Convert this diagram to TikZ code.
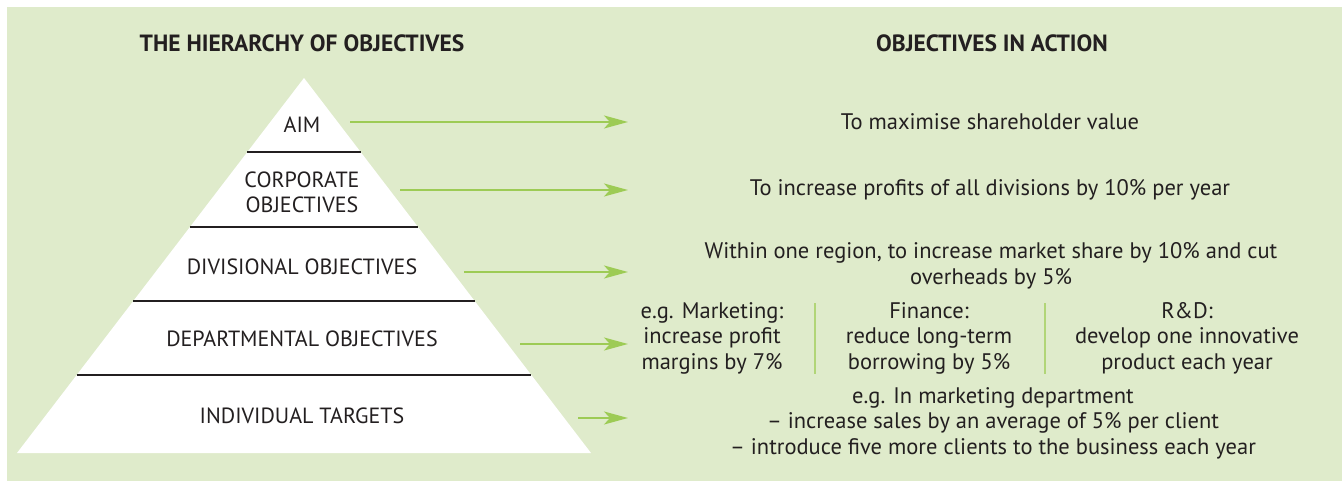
\documentclass[tikz,border=0pt]{standalone}
\usepackage{fontspec}
\setmainfont{PT Sans}
\usetikzlibrary{arrows.meta,calc}

\definecolor{panelgreen}{HTML}{DFEBCB}
\definecolor{arrowgreen}{HTML}{9DCB55}
\definecolor{inkgrey}{HTML}{231F20}

\begin{document}
\begin{tikzpicture}[x=1pt,y=-1pt,
	every node/.style = {text=inkgrey, align=center, inner sep=0pt,
		font=\fontsize{22.5}{25.5}\selectfont},
	heading/.style = {font=\bfseries\fontsize{23.5}{26}\selectfont},
	levelname/.style = {font=\fontsize{22}{25}\selectfont},
	levelline/.style = {draw=inkgrey, line width=1.5pt},
	pointer/.style = {draw=arrowgreen, line width=2pt,
		-{Stealth[length=24pt,width=13pt,inset=6pt]}},
	divider/.style = {draw=arrowgreen!80, line width=1.5pt}]

	% background panel
	\useasboundingbox (0,0) rectangle (1342,481);
	\fill[panelgreen] (7,7) rectangle (1342,481);

	\node[heading] (lefthead) at (302,43) {THE HIERARCHY OF OBJECTIVES};
	\node[heading] (righthead) at (992,43) {OBJECTIVES IN ACTION};

	% pyramid
	\coordinate (apex) at (304,78);
	\coordinate (bl) at (17,453);
	\coordinate (br) at (591,453);
	\fill[white] (apex) -- (bl) -- (br) -- cycle;
	\draw[levelline] ($(apex)!0.1973!(bl)$) -- ($(apex)!0.1973!(br)$);
	\draw[levelline] ($(apex)!0.3973!(bl)$) -- ($(apex)!0.3973!(br)$);
	\draw[levelline] ($(apex)!0.5947!(bl)$) -- ($(apex)!0.5947!(br)$);
	\draw[levelline] ($(apex)!0.7920!(bl)$) -- ($(apex)!0.7920!(br)$);

	\node[levelname] (aim) at (302,125) {AIM};
	\node[levelname] (corporate) at (302,192) {CORPORATE\\OBJECTIVES};
	\node[levelname] (divisional) at (302,267) {DIVISIONAL OBJECTIVES};
	\node[levelname] (departmental) at (302,339) {DEPARTMENTAL OBJECTIVES};
	\node[levelname] (individual) at (302,416) {INDIVIDUAL TARGETS};

	% objectives in action
	\node (shareholder) at (990,122) {To maximise shareholder value};
	\node (profits) at (990,190) {To increase profits of all divisions by 10\% per year};
	\node (region) at (991,266) {Within one region, to increase market share by 10\% and cut\\overheads by 5\%};
	\node (marketing) at (712,338) {e.g. Marketing:\\increase profit\\margins by 7\%};
	\node (finance) at (929,338) {Finance:\\reduce long-term\\borrowing by 5\%};
	\node (rnd) at (1187,338) {R\&D:\\develop one innovative\\product each year};
	\node (clients) at (993,423) {e.g. In marketing department\\– increase sales by an average of 5\% per client\\– introduce five more clients to the business each year};

	\draw[divider] (815,303) -- (815,374);
	\draw[divider] (1045,303) -- (1045,374);

	% arrows
	\coordinate (aimstart) at (350,122);
	\coordinate (aimend) at (628,122);
	\coordinate (corporatestart) at (400,190);
	\coordinate (corporateend) at (628,190);
	\coordinate (divisionalstart) at (464,272);
	\coordinate (divisionalend) at (628,272);
	\coordinate (departmentalstart) at (520,344);
	\coordinate (departmentalend) at (628,344);
	\coordinate (individualstart) at (578,418);
	\coordinate (individualend) at (628,418);
	\draw[pointer] (aimstart) -- (aimend);
	\draw[pointer] (corporatestart) -- (corporateend);
	\draw[pointer] (divisionalstart) -- (divisionalend);
	\draw[pointer] (departmentalstart) -- (departmentalend);
	\draw[pointer] (individualstart) -- (individualend);
\end{tikzpicture}
\end{document}
